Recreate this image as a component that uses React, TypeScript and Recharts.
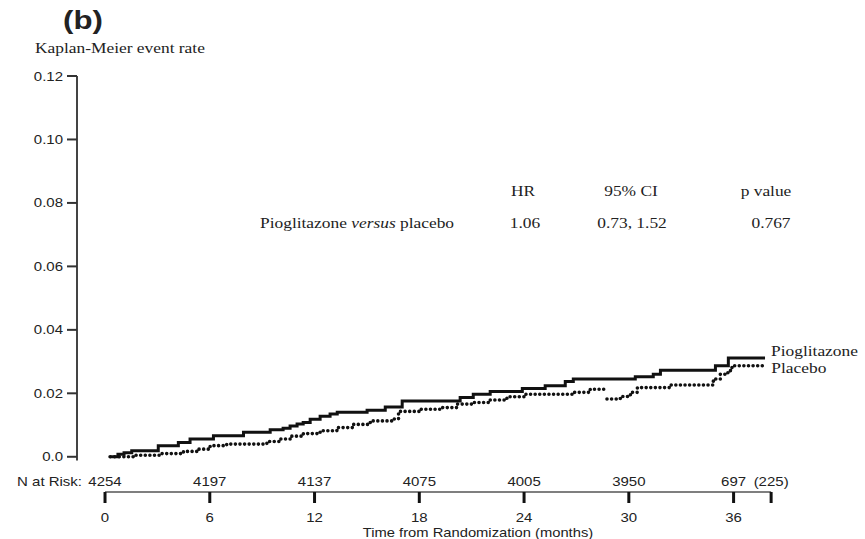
import { Line, LineChart, ReferenceLine, XAxis, YAxis } from 'recharts'

const pioMonths = [0.29, 0.74, 1.09, 1.53, 3.05, 4.2, 4.87, 6.21, 7.93, 9.46, 10.2, 10.6, 11.0, 11.35, 11.75, 12.32, 12.89, 13.3, 15.01, 16.05, 17.02, 20.34, 21.09, 22.06, 23.9, 25.21, 26.36, 26.82, 30.37, 31.4, 31.81, 34.96, 35.7, 37.8]
const pioRates = [0, 0.0008, 0.0013, 0.0019, 0.0035, 0.0045, 0.0056, 0.0066, 0.0077, 0.0085, 0.009, 0.0097, 0.0103, 0.0108, 0.0118, 0.0128, 0.0135, 0.014, 0.0147, 0.0157, 0.0176, 0.0187, 0.0197, 0.0206, 0.0215, 0.0224, 0.0237, 0.0245, 0.0252, 0.026, 0.0273, 0.0287, 0.0311, 0.0311]

const placeboMonths = [0.29, 1.62, 3.15, 4.49, 5.26, 6.02, 6.97, 9.27, 10.03, 10.6, 11.36, 12.32, 13.28, 14.23, 15.19, 16.52, 16.81, 18.05, 19.2, 20.15, 21.11, 22.06, 23.02, 24.07, 26.84, 27.79, 28.56, 28.65, 28.7, 28.75, 29.51, 30.09, 30.49, 32.37, 34.84, 35.24, 35.53, 35.82, 35.93, 37.82]
const placeboRates = [0, 0.0005, 0.001, 0.0017, 0.0024, 0.0035, 0.004, 0.0048, 0.0056, 0.0065, 0.0073, 0.0082, 0.0092, 0.0102, 0.0113, 0.0119, 0.0143, 0.015, 0.0155, 0.0166, 0.0171, 0.0179, 0.0189, 0.0197, 0.0203, 0.0213, 0.022, 0.022, null, 0.0182, 0.019, 0.0203, 0.0218, 0.0226, 0.0245, 0.026, 0.0265, 0.0281, 0.0287, 0.0287]

const monthTicks = [0, 6, 12, 18, 24, 30, 36, 38.15]
const monthLabels = ['0', '6', '12', '18', '24', '30', '36', '']
const riskCounts = ['4254', '4197', '4137', '4075', '4005', '3950', '697', '(225)']
const rateTicks = [0, 0.02, 0.04, 0.06, 0.08, 0.1, 0.12]

const X_MIN = -1.6046
const X_MAX = 38.2
const Y_MIN = -0.0111

const SANS = '"Liberation Sans", Arial, sans-serif'
const SERIF = '"Liberation Serif", "Times New Roman", serif'
const INK = '#222'

const pioData = pioMonths.map((m, i) => ({ m, v: pioRates[i] }))
const placeboData = placeboMonths.map((m, i) => ({ m, v: placeboRates[i] }))

// the source figure is stretched sideways, so text is widened to match
function SText({ x, y, anchor = 'start', size = 12.5, family = SANS, weight = 400, sx = 1.2, children }: any) {
  return (
    <text
      transform={`translate(${x} ${y}) scale(${sx} 1)`}
      textAnchor={anchor}
      fontSize={size}
      fontFamily={family}
      fontWeight={weight}
      fill={INK}
    >
      {children}
    </text>
  )
}

function MonthTick(props: any) {
  const { x, y, index } = props
  return (
    <g>
      {index === 0 && <SText x={x - 23} y={y - 17} anchor="end">N at Risk:</SText>}
      <SText x={x} y={y - 17} anchor="middle">{riskCounts[index]}</SText>
      <SText x={x} y={y + 19} anchor="middle">{monthLabels[index]}</SText>
    </g>
  )
}

function RateTick(props: any) {
  const { x, y, payload } = props
  const label = payload.value === 0 ? '0.0' : payload.value.toFixed(2)
  return <SText x={x - 1} y={y + 4.5} anchor="end">{label}</SText>
}

function endLabel(name: string, count: number, dy: number) {
  return (props: any) => {
    if (props.index !== count - 1) return null
    return (
      <SText x={props.x + 6} y={props.y + dy} size={14.5} family={SERIF}>{name}</SText>
    )
  }
}

export default function App() {
  return (
    <div style={{ position: 'absolute', left: 0, top: 0, width: 865, height: 539, background: '#fff' }}>
      <LineChart width={865} height={539} margin={{ top: 76, right: 93, bottom: 0, left: 0 }}>
        <XAxis
          type="number"
          dataKey="m"
          domain={[X_MIN, X_MAX]}
          ticks={monthTicks}
          axisLine={false}
          tickLine={{ stroke: '#111', strokeWidth: 3 }}
          tickSize={11}
          tickMargin={0}
          height={47}
          tick={<MonthTick />}
          interval={0}
          allowDataOverflow
        />
        <YAxis
          type="number"
          domain={[Y_MIN, 0.12]}
          ticks={rateTicks}
          axisLine={false}
          tickLine={{ stroke: '#333', strokeWidth: 2 }}
          tickSize={10}
          tickMargin={3}
          width={77}
          tick={<RateTick />}
          interval={0}
          allowDataOverflow
        />
        <ReferenceLine
          segment={[{ x: X_MIN, y: -0.0012 }, { x: X_MIN, y: 0.12 }]}
          stroke="#444"
          strokeWidth={2}
          ifOverflow="visible"
        />
        <ReferenceLine
          segment={[{ x: 0, y: Y_MIN }, { x: monthTicks[monthTicks.length - 1], y: Y_MIN }]}
          stroke="#555"
          strokeWidth={1.5}
          ifOverflow="visible"
        />
        <Line
          data={pioData}
          dataKey="v"
          type="stepAfter"
          stroke="#111"
          strokeWidth={3}
          dot={false}
          isAnimationActive={false}
          label={endLabel('Pioglitazone', pioData.length, -2)}
        />
        <Line
          data={placeboData}
          dataKey="v"
          type="stepAfter"
          stroke="#111"
          strokeWidth={3.6}
          strokeDasharray="0 4.6"
          strokeLinecap="round"
          dot={false}
          isAnimationActive={false}
          label={endLabel('Placebo', placeboData.length, 7.5)}
        />
      </LineChart>
      <svg width={865} height={539} style={{ position: 'absolute', left: 0, top: 0, pointerEvents: 'none' }}>
        <SText x={63} y={29} size={26} weight={700}>(b)</SText>
        <SText x={35} y={53} size={14.5} family={SERIF}>Kaplan-Meier event rate</SText>
        <SText x={523} y={196} anchor="middle" size={14.5} family={SERIF}>HR</SText>
        <SText x={631} y={196} anchor="middle" size={14.5} family={SERIF}>95% CI</SText>
        <SText x={766} y={196} anchor="middle" size={14.5} family={SERIF}>p value</SText>
        <SText x={260} y={228} size={14.5} family={SERIF}>
          Pioglitazone <tspan fontStyle="italic">versus</tspan> placebo
        </SText>
        <SText x={525} y={228} anchor="middle" size={14.5} family={SERIF}>1.06</SText>
        <SText x={632} y={228} anchor="middle" size={14.5} family={SERIF}>0.73, 1.52</SText>
        <SText x={771} y={228} anchor="middle" size={14.5} family={SERIF}>0.767</SText>
        <SText x={478} y={537} anchor="middle" size={12.5} sx={1.18}>Time from Randomization (months)</SText>
      </svg>
    </div>
  )
}
